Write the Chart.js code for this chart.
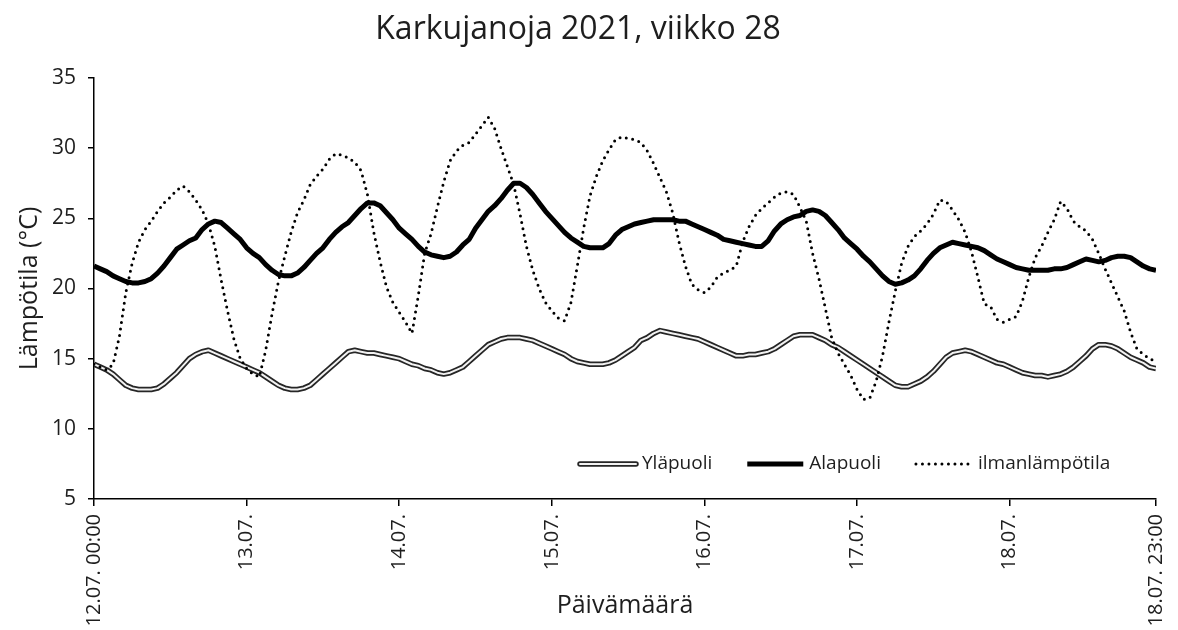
<!DOCTYPE html>
<html lang="fi">
<head>
<meta charset="utf-8">
<title>Karkujanoja 2021, viikko 28</title>
<script src="https://cdn.jsdelivr.net/npm/chart.js@4.4.1/dist/chart.umd.min.js"></script>
<style>
  html, body { margin: 0; padding: 0; background: #fff; }
  #chart { display: block; }
</style>
</head>
<body>
<canvas id="chart" width="1178" height="630"></canvas>
<script>
// Otsikot
const chartTitle = 'Karkujanoja 2021, viikko 28';
const xTitle = 'Päivämäärä';
const yTitle = 'Lämpötila (°C)';
const seriesNames = ['Yläpuoli', 'Alapuoli', 'ilmanlämpötila'];

// X-akselin tikit (tunteja alusta) ja niiden tekstit
const tickHours = [0, 24, 48, 72, 96, 120, 144, 167];
const tickLabels = ['12.07. 00:00', '13.07.', '14.07.', '15.07.', '16.07.', '17.07.', '18.07.', '18.07. 23:00'];

// Tuntiarvot 12.07. 00:00 - 18.07. 23:00, yksi rivi per päivä
const ylapuoli = [
  14.6, 14.4, 14.2, 13.9, 13.5, 13.1, 12.9, 12.8, 12.8, 12.8, 12.9, 13.2, 13.6, 14.0, 14.5, 15.0, 15.3, 15.5, 15.6, 15.4, 15.2, 15.0, 14.8, 14.6,
  14.4, 14.2, 14.0, 13.7, 13.4, 13.1, 12.9, 12.8, 12.8, 12.9, 13.1, 13.5, 13.9, 14.3, 14.7, 15.1, 15.5, 15.6, 15.5, 15.4, 15.4, 15.3, 15.2, 15.1,
  15.0, 14.8, 14.6, 14.5, 14.3, 14.2, 14.0, 13.9, 14.0, 14.2, 14.4, 14.8, 15.2, 15.6, 16.0, 16.2, 16.4, 16.5, 16.5, 16.5, 16.4, 16.3, 16.1, 15.9,
  15.7, 15.5, 15.3, 15.0, 14.8, 14.7, 14.6, 14.6, 14.6, 14.7, 14.9, 15.2, 15.5, 15.8, 16.3, 16.5, 16.8, 17.0, 16.9, 16.8, 16.7, 16.6, 16.5, 16.4,
  16.2, 16.0, 15.8, 15.6, 15.4, 15.2, 15.2, 15.3, 15.3, 15.4, 15.5, 15.7, 16.0, 16.3, 16.6, 16.7, 16.7, 16.7, 16.5, 16.3, 16.0, 15.8, 15.5, 15.2,
  14.9, 14.6, 14.3, 14.0, 13.7, 13.4, 13.1, 13.0, 13.0, 13.2, 13.4, 13.7, 14.1, 14.6, 15.1, 15.4, 15.5, 15.6, 15.5, 15.3, 15.1, 14.9, 14.7, 14.6,
  14.4, 14.2, 14.0, 13.9, 13.8, 13.8, 13.7, 13.8, 13.9, 14.1, 14.4, 14.8, 15.2, 15.7, 16.0, 16.0, 15.9, 15.7, 15.4, 15.1, 14.9, 14.7, 14.4, 14.3
];

const alapuoli = [
  21.6, 21.4, 21.2, 20.9, 20.7, 20.5, 20.4, 20.4, 20.5, 20.7, 21.1, 21.6, 22.2, 22.8, 23.1, 23.4, 23.6, 24.2, 24.6, 24.8, 24.7, 24.3, 23.9, 23.5,
  22.9, 22.5, 22.2, 21.7, 21.3, 21.0, 20.9, 20.9, 21.1, 21.5, 22.0, 22.5, 22.9, 23.5, 24.0, 24.4, 24.7, 25.2, 25.7, 26.1, 26.1, 25.9, 25.4, 24.9,
  24.3, 23.9, 23.5, 23.0, 22.6, 22.4, 22.3, 22.2, 22.3, 22.6, 23.1, 23.5, 24.3, 24.9, 25.5, 25.9, 26.4, 27.0, 27.5, 27.5, 27.2, 26.7, 26.1, 25.5,
  25.0, 24.5, 24.0, 23.6, 23.3, 23.0, 22.9, 22.9, 22.9, 23.2, 23.8, 24.2, 24.4, 24.6, 24.7, 24.8, 24.9, 24.9, 24.9, 24.9, 24.8, 24.8, 24.6, 24.4,
  24.2, 24.0, 23.8, 23.5, 23.4, 23.3, 23.2, 23.1, 23.0, 23.0, 23.4, 24.1, 24.6, 24.9, 25.1, 25.2, 25.5, 25.6, 25.5, 25.2, 24.7, 24.2, 23.6, 23.2,
  22.8, 22.3, 21.9, 21.4, 20.9, 20.5, 20.3, 20.4, 20.6, 20.9, 21.4, 22.0, 22.5, 22.9, 23.1, 23.3, 23.2, 23.1, 23.0, 22.9, 22.7, 22.4, 22.1, 21.9,
  21.7, 21.5, 21.4, 21.3, 21.3, 21.3, 21.3, 21.4, 21.4, 21.5, 21.7, 21.9, 22.1, 22.0, 21.9, 22.0, 22.2, 22.3, 22.3, 22.2, 21.9, 21.6, 21.4, 21.3
];

const ilmanlampotila = [
  14.6, 14.4, 14.2, 14.6, 16.6, 19.7, 21.8, 23.3, 24.2, 24.8, 25.5, 26.1, 26.5, 27.0, 27.3, 26.9, 26.3, 25.6, 24.6, 23.0, 20.6, 18.4, 16.4, 15.0,
  14.3, 13.9, 13.7, 15.6, 18.2, 20.5, 22.3, 24.0, 25.4, 26.3, 27.4, 28.0, 28.5, 29.2, 29.6, 29.5, 29.3, 29.0, 28.4, 26.7, 24.0, 21.9, 20.1, 19.0,
  18.3, 17.6, 16.8, 19.5, 22.5, 23.9, 25.8, 27.6, 29.1, 29.8, 30.2, 30.4, 31.0, 31.6, 32.2, 31.4, 30.0, 28.7, 27.4, 25.3, 23.0, 21.3, 20.0, 19.0,
  18.4, 17.9, 17.7, 19.0, 21.6, 24.3, 26.6, 28.0, 29.1, 29.9, 30.6, 30.8, 30.7, 30.6, 30.4, 29.8, 28.9, 27.9, 26.9, 25.4, 23.3, 21.6, 20.3, 19.9,
  19.7, 20.1, 20.8, 21.1, 21.3, 21.6, 23.3, 24.4, 25.2, 25.7, 26.1, 26.5, 26.8, 26.9, 26.7, 25.8, 24.8, 22.5, 20.7, 18.6, 16.5, 15.4, 14.6, 13.8,
  12.8, 12.1, 12.2, 13.4, 15.2, 17.6, 19.8, 21.8, 23.0, 23.7, 24.1, 24.6, 25.3, 26.3, 26.2, 25.6, 24.9, 24.0, 22.6, 20.8, 18.9, 18.7, 17.8, 17.6,
  17.8, 18.0, 19.1, 20.8, 22.2, 23.0, 24.0, 24.9, 26.2, 25.7, 24.8, 24.4, 24.1, 23.5, 22.5, 21.4, 20.4, 19.4, 18.4, 16.9, 15.7, 15.3, 15.0, 14.8
];

// Y-akselin rajat
const yMin = 5;
const yMax = 35;
const yStep = 5;

// Tyylit
const FONT = '"Open Sans", "Noto Sans", sans-serif';
const TEXT = '#1e1e1e';

// Muunna sarja {x, y}-pisteiksi (x = tunti alusta)
function toPoints(values) {
  return values.map((v, i) => ({ x: i, y: v }));
}

// Legenda piirtoalueen sisällä oikeassa alakulmassa
const insideLegend = {
  id: 'insideLegend',
  afterDraw(chart) {
    const { ctx, chartArea } = chart;
    const sampleLen = 62;
    const textGap = 3;
    const itemGap = 32;
    ctx.save();
    ctx.font = '19px ' + FONT;
    let x = chartArea.left + 483;
    const y = chartArea.bottom - 35;

    seriesNames.forEach((name, i) => {
      ctx.beginPath();
      ctx.moveTo(x + 3, y);
      ctx.lineTo(x + sampleLen - 3, y);
      if (i === 0) {
        ctx.lineCap = 'round';
        ctx.setLineDash([]);
        ctx.strokeStyle = '#262626';
        ctx.lineWidth = 5.5;
        ctx.stroke();
        ctx.strokeStyle = '#f2f2f2';
        ctx.lineWidth = 2;
        ctx.stroke();
      } else if (i === 1) {
        ctx.lineCap = 'butt';
        ctx.setLineDash([]);
        ctx.strokeStyle = '#000';
        ctx.lineWidth = 5;
        ctx.stroke();
      } else {
        ctx.lineCap = 'round';
        ctx.setLineDash([0, 6.5]);
        ctx.strokeStyle = '#000';
        ctx.lineWidth = 3;
        ctx.stroke();
      }
      ctx.setLineDash([]);
      ctx.fillStyle = TEXT;
      ctx.textAlign = 'left';
      ctx.textBaseline = 'middle';
      ctx.fillText(name, x + sampleLen + textGap, y);
      x += sampleLen + textGap + ctx.measureText(name).width + itemGap;
    });
    ctx.restore();
  }
};

const ctx = document.getElementById('chart').getContext('2d');

new Chart(ctx, {
  type: 'line',
  data: {
    datasets: [
      {
        label: seriesNames[2],
        data: toPoints(ilmanlampotila),
        borderColor: '#000',
        borderWidth: 3,
        borderDash: [0, 6.5],
        borderCapStyle: 'round',
        pointRadius: 0,
        tension: 0,
        order: 0
      },
      {
        label: seriesNames[0] + ' (sisä)',
        data: toPoints(ylapuoli),
        borderColor: '#f2f2f2',
        borderWidth: 2,
        borderJoinStyle: 'round',
        pointRadius: 0,
        tension: 0,
        order: 1
      },
      {
        label: seriesNames[0],
        data: toPoints(ylapuoli),
        borderColor: '#262626',
        borderWidth: 5.5,
        borderJoinStyle: 'round',
        pointRadius: 0,
        tension: 0,
        order: 2
      },
      {
        label: seriesNames[1],
        data: toPoints(alapuoli),
        borderColor: '#000',
        borderWidth: 5,
        borderJoinStyle: 'round',
        pointRadius: 0,
        tension: 0,
        order: 3
      }
    ]
  },
  options: {
    responsive: false,
    animation: false,
    layout: { padding: { left: 0, right: 22, top: 0, bottom: 0 } },
    plugins: {
      legend: { display: false },
      tooltip: { enabled: false },
      title: {
        display: true,
        text: chartTitle,
        color: TEXT,
        font: { family: FONT, size: 32, weight: 'normal' },
        padding: { top: 11, bottom: 28.6 }
      }
    },
    scales: {
      x: {
        type: 'linear',
        min: 0,
        max: tickHours[tickHours.length - 1],
        afterBuildTicks(scale) {
          scale.ticks = tickHours.map(v => ({ value: v }));
        },
        afterFit(scale) {
          scale.height = 131;
          scale.paddingLeft = 0;
          scale.paddingRight = 0;
        },
        ticks: {
          autoSkip: false,
          maxRotation: 90,
          minRotation: 90,
          padding: 8,
          color: TEXT,
          font: { family: FONT, size: 20 },
          callback(value) {
            const i = tickHours.indexOf(value);
            return i >= 0 ? tickLabels[i] : '';
          }
        },
        grid: {
          display: true,
          drawOnChartArea: false,
          drawTicks: true,
          tickLength: 7,
          color: '#000',
          lineWidth: 1.5
        },
        border: { display: true, color: '#000', width: 1.5 },
        title: {
          display: true,
          text: xTitle,
          color: TEXT,
          font: { family: FONT, size: 25 },
          padding: { top: 4, bottom: 9 }
        }
      },
      y: {
        min: yMin,
        max: yMax,
        afterFit(scale) {
          scale.width = 94;
        },
        ticks: {
          stepSize: yStep,
          padding: 12,
          color: TEXT,
          font: { family: FONT, size: 21 }
        },
        grid: {
          display: true,
          drawOnChartArea: false,
          drawTicks: true,
          tickLength: 6,
          color: '#000',
          lineWidth: 1.5
        },
        border: { display: true, color: '#000', width: 1.5 },
        title: {
          display: true,
          text: yTitle,
          color: TEXT,
          font: { family: FONT, size: 25 },
          padding: { top: 15, bottom: 4 }
        }
      }
    }
  },
  plugins: [insideLegend]
});
</script>
</body>
</html>
